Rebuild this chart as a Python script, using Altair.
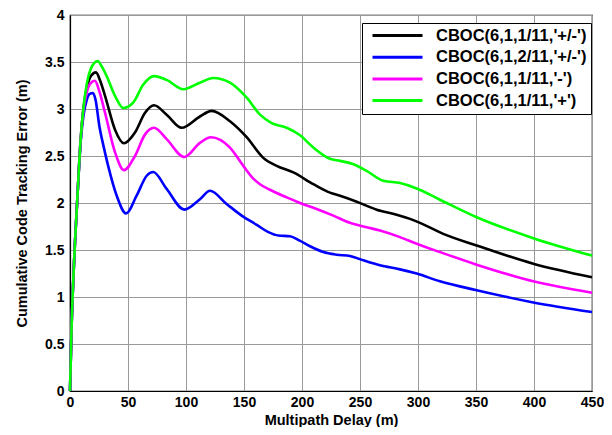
import altair as alt
import pandas as pd

series_names = ["CBOC(6,1,1/11,'+/-')", "CBOC(6,1,2/11,'+/-')", "CBOC(6,1,1/11,'-')", "CBOC(6,1,1/11,'+')"]
series_colors = ["#000000", "#0000ff", "#ff00ff", "#00ff00"]

black_x = [0, 1.4, 3.4, 6.3, 9.2, 11.5, 14.5, 18, 22.4, 26, 30.2, 38.8, 46.5, 56, 64.7, 72.4, 83.3, 96.3, 112, 122.1,
           137.9, 152.3, 166.6, 178.2, 192.5, 209.8, 224.1, 232.8, 247.2, 264.4, 281.6, 293.1, 301.7, 321.8, 350.6, 399.4, 450]
black_y = [0, 0.70, 1.34, 2.04, 2.68, 3.0, 3.22, 3.35, 3.39, 3.30, 3.14, 2.78, 2.635, 2.75, 2.96, 3.04, 2.94, 2.80, 2.92, 2.98,
           2.87, 2.70, 2.48, 2.395, 2.325, 2.20, 2.11, 2.077, 2.014, 1.929, 1.876, 1.831, 1.789, 1.672, 1.548, 1.354, 1.21]

blue_x = [0, 1.4, 3.4, 6.3, 9.2, 11.5, 14.5, 17, 19.8, 22, 25.3, 29, 33, 40.2, 48.3, 57.5, 66.1, 71.8, 83.3, 98.5, 112, 120.7,
          135, 148, 161, 171, 179.6, 189.7, 198, 206.9, 218.4, 229.9, 241.4, 252.8, 267.2, 284.5, 298.9, 318.9, 350.6, 399.4, 450]
blue_y = [0, 0.70, 1.34, 2.04, 2.65, 2.92, 3.10, 3.16, 3.17, 3.10, 2.82, 2.60, 2.39, 2.08, 1.89, 2.08, 2.29, 2.33, 2.15, 1.93, 2.04, 2.13,
          1.99, 1.866, 1.767, 1.69, 1.654, 1.647, 1.60, 1.54, 1.478, 1.45, 1.436, 1.39, 1.337, 1.294, 1.249, 1.167, 1.072, 0.942, 0.84]

magenta_x = [0, 1.4, 3.4, 6.3, 9.2, 11.5, 14.5, 17.5, 21.5, 25, 30.2, 38.8, 46.5, 56, 64.7, 72.4, 83.3, 98.5, 112, 121.5,
             137.9, 149.4, 158, 163.8, 172.4, 186.8, 198.3, 212.6, 227, 241.4, 255.7, 267.2, 284.5, 298.9, 318.9, 350.6, 399.4, 450]
magenta_y = [0, 0.70, 1.34, 2.04, 2.68, 2.98, 3.18, 3.27, 3.30, 3.20, 2.96, 2.54, 2.35, 2.50, 2.73, 2.80, 2.68, 2.49, 2.64, 2.70,
             2.59, 2.395, 2.26, 2.20, 2.141, 2.06, 2.0, 1.937, 1.866, 1.789, 1.743, 1.707, 1.637, 1.566, 1.478, 1.344, 1.167, 1.045]

green_x = [0, 1.4, 3.4, 6.3, 9.2, 11.5, 14.5, 18, 21, 23.9, 27, 31.6, 38.8, 46, 54.6, 63.2, 72.4, 83.3, 97.7, 112, 123.5,
           137.9, 152.3, 163.8, 173.9, 186.8, 198.3, 209.8, 224.1, 232.8, 244.3, 255.7, 270.1, 284.5, 298.9, 318.9, 350.6, 399.4, 450]
green_y = [0, 0.70, 1.34, 2.04, 2.68, 3.0, 3.27, 3.43, 3.49, 3.51, 3.46, 3.35, 3.14, 3.01, 3.07, 3.26, 3.35, 3.31, 3.21, 3.28, 3.33,
           3.28, 3.12, 2.94, 2.85, 2.80, 2.72, 2.59, 2.47, 2.448, 2.413, 2.342, 2.236, 2.212, 2.155, 2.035, 1.848, 1.626, 1.44]

x_ticks = [0, 50, 100, 150, 200, 250, 300, 350, 400, 450]
y_ticks = [0, 0.5, 1, 1.5, 2, 2.5, 3, 3.5, 4]

rows = []
for order, (name, xs, ys) in enumerate(zip(series_names,
                                           [black_x, blue_x, magenta_x, green_x],
                                           [black_y, blue_y, magenta_y, green_y])):
    for i, (xv, yv) in enumerate(zip(xs, ys)):
        rows.append({"series": name, "order": order, "idx": i, "x": xv, "y": yv})
df = pd.DataFrame(rows)

FONT = "Liberation Sans"

chart = alt.Chart(df).mark_line(strokeWidth=2.6, interpolate="monotone").encode(
    x=alt.X("x:Q", scale=alt.Scale(domain=[0, 450], nice=False),
            axis=alt.Axis(title="Multipath Delay (m)", values=x_ticks, format="d", titleFontSize=14.5,
                          titleBaseline="alphabetic", titleY=33)),
    y=alt.Y("y:Q", scale=alt.Scale(domain=[0, 4], nice=False),
            axis=alt.Axis(title="Cumulative Code Tracking Error (m)", values=y_ticks, format="~g",
                          titleFontSize=14.5)),
    color=alt.Color("series:N", sort=series_names,
                    scale=alt.Scale(domain=series_names, range=series_colors),
                    legend=alt.Legend(orient="none", legendX=292, legendY=8, title=None,
                                      strokeColor="black", fillColor="white", padding=4,
                                      symbolType="stroke", symbolSize=2500, symbolStrokeWidth=3,
                                      symbolOffset=5, clipHeight=17,
                                      labelFontSize=16.5, labelFont=FONT, labelFontWeight="bold",
                                      labelColor="black", labelOffset=12, labelLimit=400, rowPadding=4.7)),
    detail="series:N",
    order="idx:Q",
).properties(
    width=522, height=376,
    autosize=alt.AutoSizeParams(type="none"),
    padding={"left": 62, "top": 7, "right": 12, "bottom": 36},
).configure_view(
    stroke="black", strokeWidth=1.2
).configure_axis(
    labelFont=FONT, titleFont=FONT, labelFontWeight="bold", titleFontWeight="bold",
    labelFontSize=14, titleFontSize=14, labelColor="black", titleColor="black",
    domainColor="black", domainWidth=1.2, ticks=False, labelFlush=False,
    grid=True, gridColor="#999999", gridWidth=1, gridOpacity=1,
).configure_axisX(
    labelPadding=4
).configure_axisY(
    labelPadding=6, titlePadding=15
)

chart.save("out.html", embed_options={"renderer": "svg", "actions": False})
